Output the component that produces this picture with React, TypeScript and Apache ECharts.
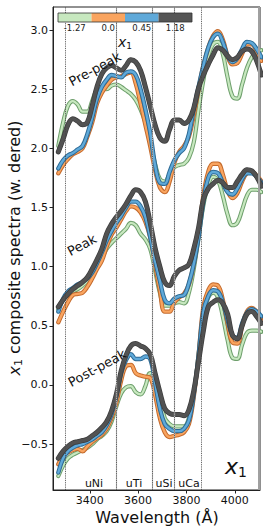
import React, { useEffect, useRef } from 'react';
import * as echarts from 'echarts';

// Wavelength grid (Å)
const wavelength = [3270, 3290, 3310, 3330, 3350, 3370, 3390, 3410, 3430, 3450, 3470, 3490, 3510, 3530, 3550, 3570, 3590, 3610, 3630, 3650, 3670, 3690, 3710, 3730, 3750, 3770, 3790, 3810, 3830, 3850, 3870, 3890, 3910, 3930, 3950, 3970, 3990, 4010, 4030, 4050, 4070, 4090, 4110];

// Pre-peak
const preGreen = [2.02, 2.22, 2.36, 2.40, 2.37, 2.31, 2.31, 2.40, 2.50, 2.52, 2.50, 2.53, 2.54, 2.52, 2.49, 2.46, 2.41, 2.33, 2.22, 2.05, 1.87, 1.74, 1.72, 1.78, 1.84, 1.86, 1.87, 1.92, 2.05, 2.33, 2.58, 2.78, 2.88, 2.90, 2.80, 2.60, 2.44, 2.42, 2.54, 2.68, 2.77, 2.81, 2.83];
const preOrange = [1.79, 1.86, 1.91, 1.95, 1.97, 2.00, 2.10, 2.22, 2.38, 2.47, 2.53, 2.58, 2.60, 2.61, 2.63, 2.64, 2.55, 2.38, 2.20, 2.02, 1.82, 1.67, 1.63, 1.72, 1.88, 1.97, 2.02, 2.10, 2.28, 2.50, 2.70, 2.85, 2.95, 2.99, 2.92, 2.78, 2.71, 2.72, 2.80, 2.88, 2.88, 2.82, 2.74];
const preBlue = [1.83, 1.90, 1.94, 1.96, 1.99, 2.02, 2.12, 2.26, 2.42, 2.52, 2.58, 2.62, 2.61, 2.60, 2.64, 2.65, 2.62, 2.50, 2.33, 2.13, 1.86, 1.71, 1.70, 1.80, 1.90, 1.96, 2.00, 2.12, 2.33, 2.52, 2.70, 2.85, 2.94, 2.97, 2.90, 2.78, 2.73, 2.76, 2.84, 2.90, 2.89, 2.84, 2.77];
const preGray = [1.97, 2.08, 2.20, 2.25, 2.23, 2.20, 2.22, 2.36, 2.52, 2.63, 2.68, 2.70, 2.68, 2.66, 2.70, 2.75, 2.73, 2.66, 2.52, 2.36, 2.20, 2.09, 2.06, 2.16, 2.24, 2.24, 2.21, 2.24, 2.34, 2.51, 2.62, 2.71, 2.79, 2.85, 2.83, 2.78, 2.75, 2.77, 2.82, 2.84, 2.82, 2.74, 2.62];

// Peak
const peakGreen = [0.64, 0.72, 0.76, 0.79, 0.81, 0.84, 0.88, 0.95, 1.02, 1.08, 1.15, 1.20, 1.24, 1.28, 1.32, 1.37, 1.35, 1.28, 1.23, 1.15, 0.97, 0.78, 0.67, 0.67, 0.69, 0.70, 0.69, 0.78, 0.98, 1.25, 1.52, 1.69, 1.76, 1.73, 1.60, 1.44, 1.35, 1.37, 1.48, 1.60, 1.65, 1.65, 1.63];
const peakOrange = [0.53, 0.62, 0.70, 0.76, 0.77, 0.78, 0.83, 0.90, 0.98, 1.05, 1.17, 1.27, 1.33, 1.40, 1.47, 1.51, 1.50, 1.46, 1.38, 1.25, 1.02, 0.80, 0.62, 0.62, 0.70, 0.74, 0.77, 0.85, 1.02, 1.27, 1.60, 1.80, 1.87, 1.87, 1.78, 1.64, 1.58, 1.62, 1.72, 1.79, 1.80, 1.77, 1.72];
const peakBlue = [0.62, 0.73, 0.79, 0.82, 0.85, 0.87, 0.90, 0.95, 1.03, 1.12, 1.22, 1.30, 1.37, 1.43, 1.50, 1.55, 1.55, 1.51, 1.42, 1.25, 1.05, 0.88, 0.72, 0.69, 0.73, 0.75, 0.76, 0.86, 1.02, 1.25, 1.55, 1.75, 1.80, 1.79, 1.71, 1.63, 1.61, 1.66, 1.74, 1.79, 1.79, 1.76, 1.71];
const peakGray = [0.66, 0.72, 0.77, 0.81, 0.84, 0.87, 0.91, 0.98, 1.06, 1.15, 1.28, 1.36, 1.42, 1.47, 1.53, 1.60, 1.65, 1.63, 1.55, 1.37, 1.16, 1.00, 0.87, 0.84, 0.92, 0.97, 0.99, 1.02, 1.15, 1.33, 1.57, 1.66, 1.70, 1.73, 1.71, 1.67, 1.67, 1.72, 1.78, 1.82, 1.81, 1.76, 1.68];

// Post-peak
const postGreen = [-0.77, -0.68, -0.62, -0.59, -0.57, -0.55, -0.53, -0.50, -0.46, -0.43, -0.39, -0.31, -0.18, -0.07, -0.02, -0.01, -0.06, -0.08, -0.01, 0.10, 0.08, -0.10, -0.28, -0.33, -0.35, -0.35, -0.35, -0.28, -0.08, 0.25, 0.60, 0.74, 0.78, 0.74, 0.58, 0.38, 0.23, 0.22, 0.34, 0.44, 0.46, 0.46, 0.45];
const postOrange = [-0.67, -0.60, -0.57, -0.55, -0.54, -0.56, -0.52, -0.48, -0.45, -0.42, -0.37, -0.28, -0.15, 0.04, 0.16, 0.17, 0.10, 0.08, 0.07, 0.06, -0.08, -0.28, -0.40, -0.44, -0.43, -0.42, -0.40, -0.33, -0.10, 0.25, 0.66, 0.80, 0.85, 0.84, 0.72, 0.52, 0.36, 0.35, 0.50, 0.62, 0.65, 0.62, 0.56];
const postBlue = [-0.74, -0.62, -0.56, -0.53, -0.51, -0.50, -0.48, -0.46, -0.43, -0.40, -0.34, -0.25, -0.10, 0.10, 0.21, 0.26, 0.22, 0.22, 0.24, 0.22, 0.02, -0.20, -0.33, -0.37, -0.39, -0.39, -0.37, -0.30, -0.08, 0.25, 0.62, 0.75, 0.80, 0.79, 0.70, 0.55, 0.42, 0.40, 0.52, 0.61, 0.64, 0.62, 0.58];
const postGray = [-0.62, -0.56, -0.52, -0.49, -0.48, -0.47, -0.46, -0.43, -0.40, -0.36, -0.31, -0.22, -0.08, 0.12, 0.25, 0.33, 0.35, 0.33, 0.31, 0.26, 0.10, -0.06, -0.20, -0.24, -0.25, -0.25, -0.26, -0.21, -0.05, 0.20, 0.46, 0.66, 0.70, 0.72, 0.69, 0.60, 0.42, 0.39, 0.50, 0.60, 0.62, 0.58, 0.52];

const colorbarLabels = ['-1.27', '0.0', '0.45', '1.18'];
const bandEdges = [3300, 3510, 3660, 3750, 3860];
const bandLabels = ['uNi', 'uTi', 'uSi', 'uCa'];
const groupLabels = ['Pre-peak', 'Peak', 'Post-peak'];
const xTicks = [3400, 3600, 3800, 4000];
const yTicks = [-0.5, 0, 0.5, 1, 1.5, 2, 2.5, 3];

const FONT = 'DejaVu Sans';
const styles = {
  green: { core: '#c7e8bf', edge: '#6e9f6c', wc: 2.2, we: 4.2 },
  orange: { core: '#f9a45f', edge: '#c46a2c', wc: 2.4, we: 4.4 },
  blue: { core: '#5fa9d9', edge: '#2d6a95', wc: 2.4, we: 4.4 },
  gray: { core: '#525252', edge: '#3c3c3c', wc: 3.6, we: 5.0 },
};

function pairs(vals: number[]) {
  return wavelength.map((w, i) => [w, vals[i]]);
}

function lineSeries(vals: number[], color: string, width: number) {
  return {
    type: 'line',
    data: pairs(vals),
    showSymbol: false,
    symbol: 'none',
    smooth: 0.4,
    clip: true,
    silent: true,
    lineStyle: { color, width, cap: 'round', join: 'round' },
    emphasis: { disabled: true },
  };
}

function group(g: number[], o: number[], b: number[], k: number[]) {
  const out: any[] = [];
  const list: [number[], any][] = [[g, styles.green], [o, styles.orange], [b, styles.blue], [k, styles.gray]];
  for (const [vals, st] of list) {
    out.push(lineSeries(vals, st.edge, st.we));
    out.push(lineSeries(vals, st.core, st.wc));
  }
  return out;
}

function fmtY(v: number) {
  const s = Math.abs(v).toFixed(1);
  return v < 0 ? '\u2212' + s : s;
}

function fmtX(v: number) {
  return String(Math.round(v));
}

export default function App() {
  const ref = useRef<HTMLDivElement>(null);
  useEffect(() => {
    document.body.style.margin = '0';
    const chart = echarts.init(ref.current!, undefined, { renderer: 'svg' });
    const cbColors = [styles.green.core, styles.orange.core, styles.blue.core, '#555555'];
    const cbX = 58, cbY = 13, cbW = 33.5, cbH = 9;
    const graphic: any[] = [];
    cbColors.forEach((c, i) => {
      graphic.push({ type: 'rect', z: 100, shape: { x: cbX + i * cbW, y: cbY, width: cbW, height: cbH }, style: { fill: c } });
      graphic.push({ type: 'text', z: 100, x: cbX + i * cbW + cbW / 2, y: 28, style: { text: colorbarLabels[i], fontSize: 8.5, fontFamily: FONT, fill: '#222', align: 'center', verticalAlign: 'middle' } });
    });
    graphic.push({ type: 'rect', z: 101, shape: { x: cbX, y: cbY, width: cbW * 4, height: cbH }, style: { fill: 'none', stroke: '#333', lineWidth: 0.8 } });
    graphic.push({ type: 'text', z: 100, x: 125, y: 42, style: { text: '{i|x}{s|1}', align: 'center', verticalAlign: 'middle', rich: { i: { fontSize: 14, fontStyle: 'italic', fontFamily: FONT, fill: '#111' }, s: { fontSize: 9, fontFamily: FONT, fill: '#111', padding: [8, 0, 0, 0] } } } });

    const bandPos = [94, 134, 164, 189];
    bandLabels.forEach((t, i) => {
      graphic.push({ type: 'text', z: 100, x: bandPos[i], y: 483, style: { text: t, fontSize: 11, fontFamily: FONT, fill: '#111', align: 'center', verticalAlign: 'middle' } });
    });

    const gPos = [[95, 69], [82, 245], [97, 368]];
    groupLabels.forEach((t, i) => {
      graphic.push({ type: 'text', z: 100, x: gPos[i][0], y: gPos[i][1], rotation: 0.5, style: { text: t, fontSize: 13, fontFamily: FONT, fill: '#111', align: 'center', verticalAlign: 'middle' } });
    });

    graphic.push({ type: 'text', z: 100, x: 236, y: 466, style: { text: '{i|x}{s|1}', align: 'center', verticalAlign: 'middle', rich: { i: { fontSize: 22, fontStyle: 'italic', fontFamily: FONT, fill: '#111' }, s: { fontSize: 14, fontFamily: FONT, fill: '#111', padding: [12, 0, 0, 0] } } } });

    graphic.push({ type: 'text', z: 100, x: 157, y: 517, style: { text: 'Wavelength (\u00C5)', fontSize: 16, fontFamily: FONT, fill: '#111', align: 'center', verticalAlign: 'middle' } });
    graphic.push({ type: 'text', z: 100, x: 14, y: 248, rotation: Math.PI / 2, style: { text: '{i|x}{s|1}{n| composite spectra (w. dered)}', align: 'center', verticalAlign: 'middle', rich: { i: { fontSize: 16, fontStyle: 'italic', fontFamily: FONT, fill: '#111' }, s: { fontSize: 11, fontFamily: FONT, fill: '#111', padding: [8, 0, 0, 0] }, n: { fontSize: 16, fontFamily: FONT, fill: '#111' } } } });

    const series: any[] = [
      {
        type: 'line',
        data: [],
        silent: true,
        markLine: {
          silent: true,
          symbol: 'none',
          label: { show: false },
          animation: false,
          data: [
            ...bandEdges.filter((v) => v === 3510 || v === 3660 || v === 3750).map((v) => ({ xAxis: v, lineStyle: { color: '#c8c8c8', width: 1.2, type: 'solid' } })),
            ...bandEdges.map((v) => ({ xAxis: v, lineStyle: { color: '#444', width: 0.9, type: 'dotted' } })),
            { xAxis: 4099, lineStyle: { color: '#a0a0a0', width: 2, type: 'solid' } },
          ],
        },
      },
      ...group(preGreen, preOrange, preBlue, preGray),
      ...group(peakGreen, peakOrange, peakBlue, peakGray),
      ...group(postGreen, postOrange, postBlue, postGray),
    ];

    chart.setOption({
      animation: false,
      backgroundColor: '#ffffff',
      grid: { left: 53, top: 7, width: 207, height: 483, show: true, borderColor: '#222', borderWidth: 1, backgroundColor: 'transparent' },
      xAxis: {
        type: 'value', min: 3248, max: 4104,
        axisLine: { show: true, onZero: false, lineStyle: { color: '#222', width: 1 } },
        axisTick: { show: true, length: 3.5, customValues: xTicks, lineStyle: { color: '#222' } },
        axisLabel: { customValues: xTicks, fontSize: 11, fontFamily: FONT, color: '#111', margin: 5, formatter: fmtX },
        splitLine: { show: false },
      },
      yAxis: {
        type: 'value', min: -0.888, max: 3.195,
        axisLine: { show: true, onZero: false, lineStyle: { color: '#222', width: 1 } },
        axisTick: { show: true, length: 3.5, customValues: yTicks, lineStyle: { color: '#222' } },
        axisLabel: { customValues: yTicks, fontSize: 11, fontFamily: FONT, color: '#111', margin: 5, formatter: fmtY },
        splitLine: { show: false },
      },
      graphic,
      series,
    });
    return () => chart.dispose();
  }, []);
  return <div ref={ref} style={{ width: 266, height: 532 }} />;
}
